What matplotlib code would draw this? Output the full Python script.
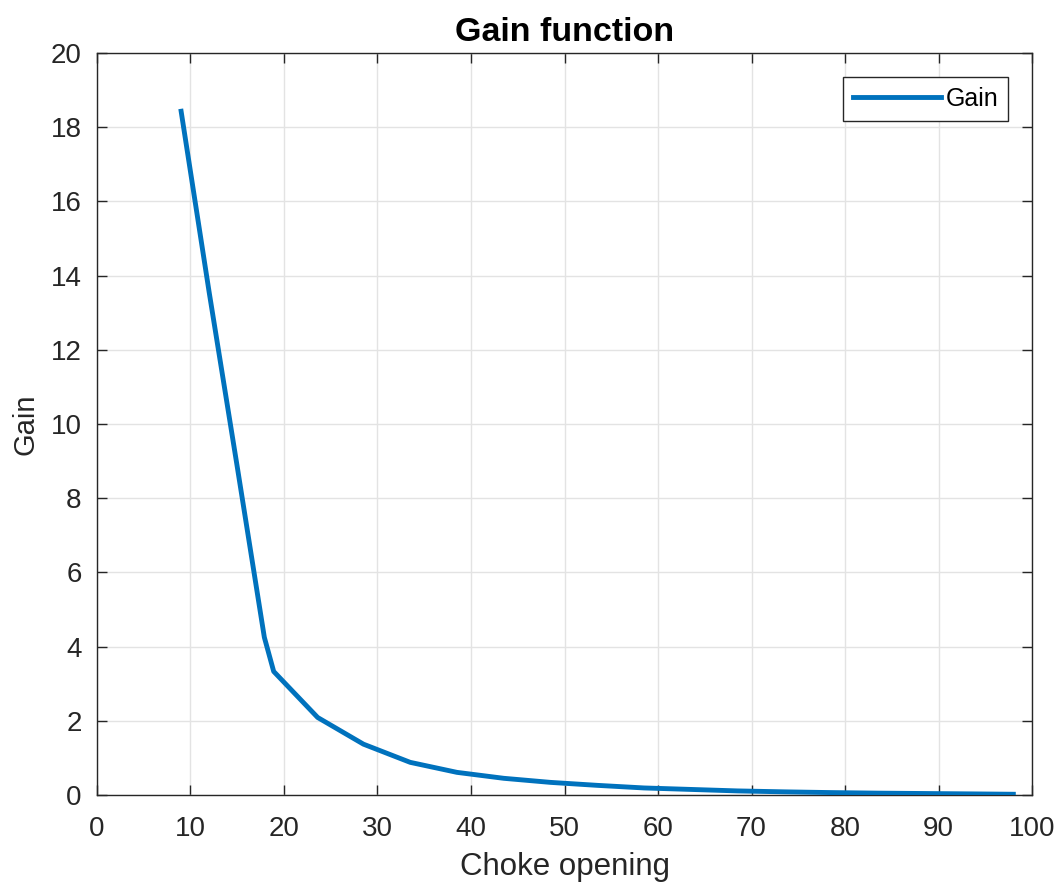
import matplotlib
matplotlib.use("Agg")
import matplotlib.pyplot as plt
import numpy as np

plt.rcParams["font.family"] = ["Liberation Sans", "DejaVu Sans"]

# data
choke = [9.0, 12.0, 15.0, 17.9, 18.9, 23.6, 28.5, 33.5, 38.5, 43.5, 48.5,
         53.5, 58.5, 63.5, 68.5, 73.5, 78.5, 83.5, 88.5, 93.5, 98.0]
gain = [18.43, 13.55, 8.85, 4.25, 3.33, 2.09, 1.37, 0.88, 0.61, 0.45, 0.34,
        0.26, 0.19, 0.15, 0.11, 0.085, 0.065, 0.05, 0.04, 0.03, 0.02]

x_ticks = np.arange(0, 101, 10)
y_ticks = np.arange(0, 21, 2)

fig = plt.figure(figsize=(10.62, 8.85), dpi=100)
ax = fig.add_axes([0.0913, 0.1017, 0.8805, 0.8384])

ax.plot(choke, gain, color="#0072BD", lw=3.5, label="Gain", zorder=3)

ax.set_xlim(0, 100)
ax.set_ylim(0, 20)
ax.set_xticks(x_ticks)
ax.set_yticks(y_ticks)
ax.grid(True, color="#e3e3e3", lw=1.0, zorder=0)
ax.set_axisbelow(True)

ax.tick_params(direction="in", length=7, width=1.0, colors="#262626",
               labelsize=20, top=True, right=True)
ax.tick_params(axis="x", pad=15)
ax.tick_params(axis="y", pad=11)
for sp in ax.spines.values():
    sp.set_color("#262626")
    sp.set_linewidth(1.0)

ax.set_xlabel("Choke opening", fontsize=22.5, color="#262626", labelpad=7)
ax.set_ylabel("Gain", fontsize=21, color="#262626", labelpad=8)
ax.set_title("Gain function", fontsize=24.5, fontweight="bold", pad=9)

leg = ax.legend(loc="upper right", fontsize=18, handlelength=3.5,
                fancybox=False, framealpha=1, edgecolor="#262626",
                borderaxespad=0.95, handletextpad=0.2, borderpad=0.4)
leg.get_frame().set_linewidth(1.0)

fig.savefig("out.png", dpi=100)
